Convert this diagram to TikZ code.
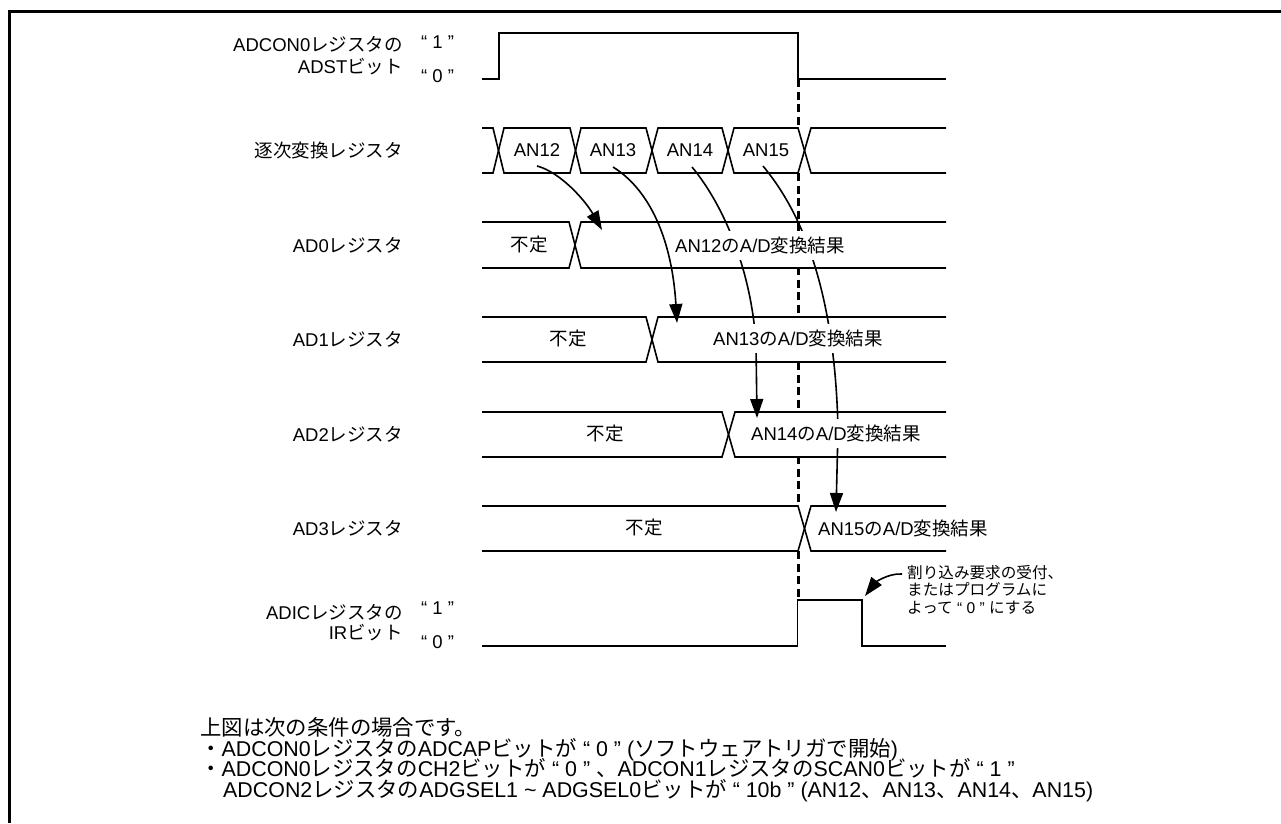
\documentclass[tikz,border=0pt]{standalone}
\usepackage{fontspec}
\setmainfont{Liberation Sans}
\newfontfamily\jpf{Noto Sans CJK JP}
\newcommand{\J}[1]{{\jpf #1}}
\usetikzlibrary{arrows.meta}
\tikzset{
  wave/.style={line width=1.6pt,line join=miter},
  frameline/.style={line width=3pt},
  dashline/.style={line width=3pt,dash pattern=on 8pt off 4.5pt},
  flow/.style={line width=1.6pt,-{Triangle[length=19pt,width=13pt]}},
  flowtail/.style={line width=1.6pt},
  reg/.style={anchor=east,font=\fontsize{18.5}{20}\selectfont,inner sep=0pt},
  lvl/.style={anchor=center,font=\fontsize{18.5}{20}\selectfont,inner sep=0pt},
  seg/.style={anchor=center,font=\fontsize{18.5}{20}\selectfont,inner sep=0pt},
  res/.style={anchor=center,fill=white,font=\fontsize{18.5}{20}\selectfont,inner xsep=2pt,inner ysep=0pt,minimum height=29pt},
  note/.style={anchor=base west,font=\fontsize{15.6}{17.5}\selectfont,inner sep=0pt,text height=12pt,text depth=2.5pt},
  cond/.style={anchor=base west,font=\fontsize{21.4}{20.7}\selectfont,inner sep=0pt,text height=15pt,text depth=3pt}
}
\newcommand{\bus}[5]{%
  \draw[wave] (482,#3) -- (#1,#3) -- (#2,#4) -- (#5,#4);
  \draw[wave] (482,#4) -- (#1,#4) -- (#2,#3) -- (#5,#3);
}
\begin{document}
\begin{tikzpicture}[x=1pt,y=-1pt]
\useasboundingbox (0,0) rectangle (1281,823);
\fill[white] (0,0) rectangle (1281,823);
% frame
\coordinate (fa) at (9.5,823);
\coordinate (fb) at (9.5,11.5);
\coordinate (fc) at (1281,11.5);
\draw[frameline] (fa) -- (fb) -- (fc);

% dashed marker
\foreach \a/\b in {79/128,173/231,267/317,362/412,456/506,551/600}
  \draw[dashline] (798,\a) -- (798,\b);

% ADST wave
\draw[wave] (482,79) -- (499,79) -- (499,33) -- (798,33) -- (798,79) -- (946,79);

% successive register
\draw[wave] (482,128) -- (493,128) -- (504,173) -- (570,173) -- (581,128) -- (646,128) -- (658,173) -- (722,173) -- (734,128) -- (798,128) -- (811,173) -- (946,173);
\draw[wave] (482,173) -- (493,173) -- (504,128) -- (570,128) -- (581,173) -- (646,173) -- (658,128) -- (722,128) -- (734,173) -- (798,173) -- (811,128) -- (946,128);

% registers
\bus{569}{581}{222}{268}{946}
\bus{646}{658}{317}{362}{946}
\bus{722}{735}{412}{457}{946}
\bus{798}{811}{506}{551}{946}

% IR wave
\draw[wave] (482,646) -- (797.5,646) -- (797.5,600) -- (862,600) -- (862,646) -- (946,646);

% arrows
\coordinate (s12) at (537,166);
\coordinate (t12) at (602,230);
\coordinate (s13) at (613,167);
\coordinate (t13) at (677,323);
\coordinate (s14) at (692,167);
\coordinate (m14) at (756,345);
\coordinate (t14) at (757,418);
\coordinate (s15) at (763,166);
\coordinate (m15) at (838,430);
\coordinate (t15) at (836,512);
\coordinate (sn) at (902,574);
\coordinate (tn) at (865,596);
\draw[flow] (s12) .. controls (560,172) and (585,200) .. (t12);
\draw[flow] (s13) .. controls (650,190) and (672,240) .. (t13);
\draw[flowtail] (s14) .. controls (726,208) and (752,275) .. (m14);
\draw[flow] (m14) -- (t14);
\draw[flowtail] (s15) .. controls (798,208) and (835,283) .. (m15);
\draw[flow] (m15) -- (t15);
\draw[flow] (sn) .. controls (888,573) and (875,583) .. (tn);

% text
\node[reg] (l1a) at (403,44) {ADCON0\J{レジスタの}};
\node[reg] (l1b) at (403,67) {ADST\J{ビット}};
\node[lvl] (v1) at (437.5,42) {“ 1 ”};
\node[lvl] (v0) at (437.5,76) {“ 0 ”};
\node[reg] (l2) at (403,150) {\J{逐次変換レジスタ}};
\node[reg] (l3) at (403,245) {AD0\J{レジスタ}};
\node[reg] (l4) at (403,339) {AD1\J{レジスタ}};
\node[reg] (l5) at (403,434) {AD2\J{レジスタ}};
\node[reg] (l6) at (403,528) {AD3\J{レジスタ}};
\node[reg] (l7a) at (403,612) {ADIC\J{レジスタの}};
\node[reg] (l7b) at (403,633) {IR\J{ビット}};
\node[lvl] (w1) at (437.5,608) {“ 1 ”};
\node[lvl] (w0) at (437.5,642) {“ 0 ”};

\node[seg] (an12) at (537,150) {AN12};
\node[seg] (an13) at (613,150) {AN13};
\node[seg] (an14) at (690,150) {AN14};
\node[seg] (an15) at (766,150) {AN15};

\node[seg] (u0) at (529,245) {\J{不定}};
\node[seg] (u1) at (568,339) {\J{不定}};
\node[seg] (u2) at (605,434) {\J{不定}};
\node[seg] (u3) at (644,528) {\J{不定}};

\node[res] (r12) at (760,245) {AN12\J{の}A/D\J{変換結果}};
\node[res] (r13) at (798,338) {AN13\J{の}A/D\J{変換結果}};
\node[res] (r14) at (836,433.5) {AN14\J{の}A/D\J{変換結果}};
\node[res] (r15) at (903,528) {AN15\J{の}A/D\J{変換結果}};

\node[note] (nt1) at (907,578) {\J{割り込み要求の受付、}};
\node[note] (nt2) at (907,595.5) {\J{またはプログラムに}};
\node[note] (nt3) at (907,613) {\J{よって} “ 0 ” \J{にする}};

\node[cond] (cd1) at (200,735) {\J{上図は次の条件の場合です。}};
\node[cond] (cd2) at (200,756) {\J{・}ADCON0\J{レジスタの}ADCAP\J{ビットが} “ 0 ” (\J{ソフトウェアトリガで開始})};
\node[cond] (cd3) at (200,776.5) {\J{・}ADCON0\J{レジスタの}CH2\J{ビットが} “ 0 ” \J{、}ADCON1\J{レジスタの}SCAN0\J{ビットが} “ 1 ”};
\node[cond] (cd4) at (223,797.5) {ADCON2\J{レジスタの}ADGSEL1 \textasciitilde{} ADGSEL0\J{ビットが} “ 10b ” (AN12\J{、}AN13\J{、}AN14\J{、}AN15)};
\end{tikzpicture}
\end{document}
